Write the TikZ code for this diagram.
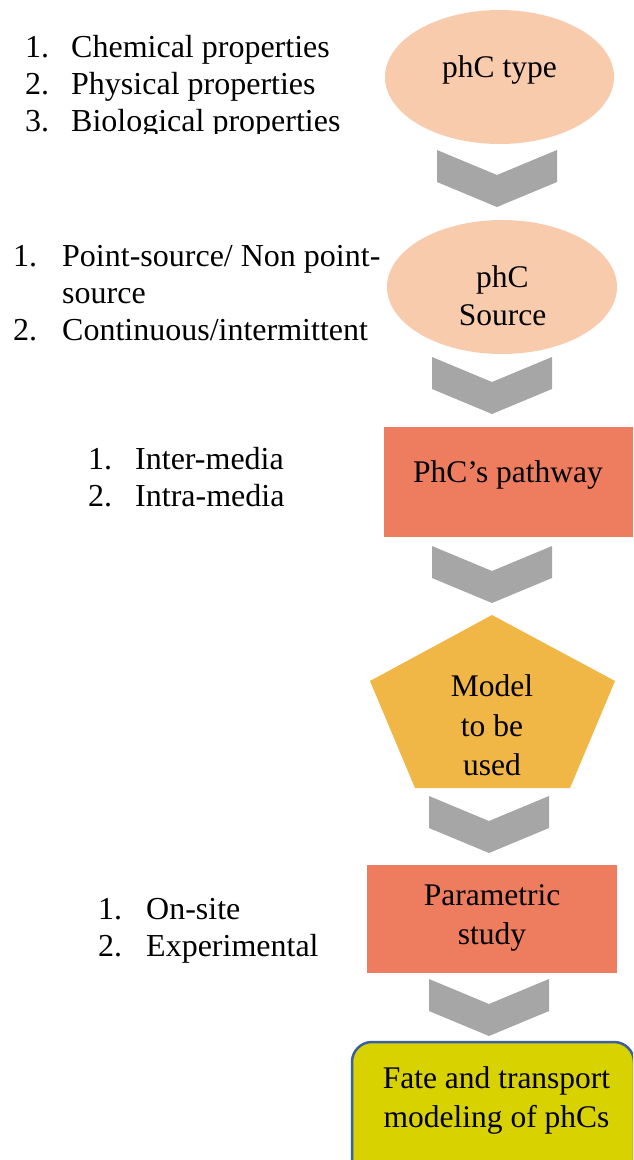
\documentclass[tikz,border=0pt]{standalone}
\usepackage{fontspec}
\setmainfont{Liberation Serif}
\usetikzlibrary{shapes.geometric}
\definecolor{peach}{HTML}{F8CBAD}
\definecolor{salmon}{HTML}{EE7C5E}
\definecolor{amber}{HTML}{F0B646}
\definecolor{chevgray}{HTML}{A6A6A6}
\definecolor{lime}{HTML}{D8D200}
\definecolor{navy}{HTML}{3A5E9E}
\tikzset{
  lbl/.style={font=\fontsize{32}{37}\selectfont, inner sep=0pt, anchor=base west},
  ctr/.style={font=\fontsize{31.5}{37}\selectfont, inner sep=0pt, anchor=base},
  chevron/.pic={\fill[chevgray] (-60,0) -- (0,25) -- (60,0) -- (60,32) -- (0,57) -- (-60,32) -- cycle;},
}
\begin{document}
\begin{tikzpicture}[x=1pt,y=-1pt]
\useasboundingbox (0,0) rectangle (633,1160);
\begin{scope}
\clip (0,0) rectangle (633,1160);
% shapes
\node[ellipse, fill=peach, minimum width=229pt, minimum height=134pt, inner sep=0pt] (type) at (499.5,77) {};
\node[ellipse, fill=peach, minimum width=230pt, minimum height=134pt, inner sep=0pt] (source) at (502,287) {};
\node[fill=salmon, minimum width=249pt, minimum height=110pt, inner sep=0pt] (pathway) at (508.5,482) {};
\path[fill=amber] (492,615) coordinate (m1) -- (615,681) coordinate (m2) -- (570,788) coordinate (m3) -- (415,788) coordinate (m4) -- (370,681) coordinate (m5) -- cycle;
\node[inner sep=0pt, minimum width=245pt, minimum height=173pt] (model) at (492.5,701.5) {};
\node[fill=salmon, minimum width=250pt, minimum height=108pt, inner sep=0pt] (param) at (492,919) {};
\draw[fill=lime, draw=navy, line width=2.5pt, rounded corners=20pt] (352,1042) rectangle (634,1200);
\node[inner sep=0pt, minimum width=282pt, minimum height=118pt] (fate) at (493,1101) {};
% chevrons
\pic (c1) at (497,150) {chevron};
\pic (c2) at (492,357) {chevron};
\pic (c3) at (492,546) {chevron};
\pic (c4) at (489,796) {chevron};
\pic (c5) at (489,979) {chevron};
% shape texts
\node[ctr] (ttype) at (499.5,77) {phC type};
\node[ctr] (tsrc1) at (502.5,287) {phC};
\node[ctr] (tsrc2) at (502.5,325) {Source};
\node[ctr] (tpath) at (508,482) {PhC’s pathway};
\node[ctr] (tmod1) at (492,696) {Model};
\node[ctr] (tmod2) at (492,736) {to be};
\node[ctr] (tmod3) at (492,775) {used};
\node[ctr] (tpar1) at (492,905) {Parametric};
\node[ctr] (tpar2) at (492,944) {study};
\node[ctr] (tfat1) at (496.5,1088) {Fate and transport};
\node[ctr] (tfat2) at (496.5,1127) {modeling of phCs};
\end{scope}
% list 1 (clipped)
\begin{scope}
\clip (0,0) rectangle (380,133);
\node[lbl] (a1n) at (25,57) {1.};
\node[lbl] (a1t) at (71,57) {Chemical properties};
\node[lbl] (a2n) at (25,94) {2.};
\node[lbl] (a2t) at (71,94) {Physical properties};
\node[lbl] (a3n) at (25,131) {3.};
\node[lbl] (a3t) at (71,131) {Biological properties};
\end{scope}
% list 2
\node[lbl] (b1n) at (13,266) {1.};
\node[lbl] (b1t) at (62,266) {Point-source/ Non point-};
\node[lbl] (b1u) at (62,303) {source};
\node[lbl] (b2n) at (13,340) {2.};
\node[lbl] (b2t) at (62,340) {Continuous/intermittent};
% list 3
\node[lbl] (c1n) at (88,469) {1.};
\node[lbl] (c1t) at (135,469) {Inter-media};
\node[lbl] (c2n) at (88,506) {2.};
\node[lbl] (c2t) at (135,506) {Intra-media};
% list 4
\node[lbl] (d1n) at (98,919) {1.};
\node[lbl] (d1t) at (146,919) {On-site};
\node[lbl] (d2n) at (98,956) {2.};
\node[lbl] (d2t) at (146,956) {Experimental};
\end{tikzpicture}
\end{document}
